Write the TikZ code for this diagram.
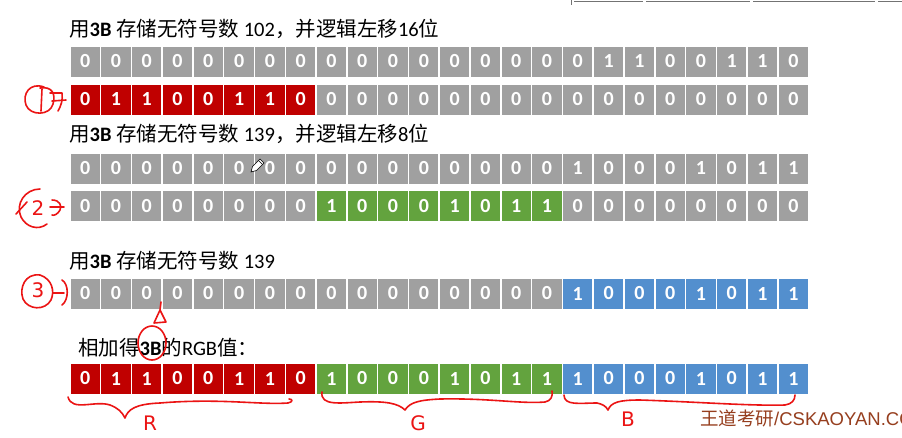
\documentclass[tikz,border=0pt]{standalone}
\usepackage{fontspec}
\setmainfont{Carlito}
\newfontfamily\cjk{Noto Sans CJK SC}
\newfontfamily\wmfont{Liberation Sans}
\newfontfamily\handfont{DejaVu Sans}
\definecolor{cgray}{RGB}{160,160,160}
\definecolor{cred}{RGB}{192,0,0}
\definecolor{cgreen}{RGB}{99,163,62}
\definecolor{cblue}{RGB}{83,143,206}
\definecolor{ink}{RGB}{235,20,20}
\definecolor{wm}{RGB}{150,62,30}
\newcommand\bitrow[3]{%
  \foreach \d/\c [count=\i from 0] in {#3} {
    \node[cell, fill=\c] (#1c\i) at (69+\i*30.79, #2) {\d};
  }%
}
\begin{document}
\begin{tikzpicture}[x=1pt,y=-1pt,
  cell/.style={draw=white, line width=1.5pt, minimum width=30.8pt, minimum height=31.5pt,
    inner sep=0pt, anchor=north west, text=white, font=\bfseries\fontsize{20}{20}\selectfont},
  title/.style={anchor=base west, inner sep=0pt, font=\fontsize{20.5}{22}\selectfont},
  pen/.style={draw=ink, line width=1.6pt, line cap=round, line join=round},
  hand/.style={text=ink, inner sep=0pt, font=\handfont\fontsize{20}{20}\selectfont},
  topline/.style={draw=black!55, line width=1pt}]
\useasboundingbox (0,0) rectangle (902,437);
\clip (0,0) rectangle (902,437);
\fill[white] (0,0) rectangle (902,437);

% top fragments
\draw[topline] (571,0) -- (571,5);
\draw[topline] (574,1.8) -- (643,1.8);
\draw[topline] (646,1.8) -- (750,1.8);
\draw[topline] (753,1.8) -- (875,1.8);
\draw[topline] (878,1.8) -- (902,1.8);

% titles
\node[title] (t1) at (69,36) {{\cjk 用}\textbf{3B} {\cjk 存储无符号数} 102{\cjk ，并逻辑左移}16{\cjk 位}};
\node[title] (t2) at (69,141) {{\cjk 用}\textbf{3B} {\cjk 存储无符号数} 139{\cjk ，并逻辑左移}8{\cjk 位}};
\node[title] (t3) at (69,268) {{\cjk 用}\textbf{3B} {\cjk 存储无符号数} 139};
\node[title] (t4) at (78,355) {{\cjk 相加得}\textbf{3B}{\cjk 的}RGB{\cjk 值：}};

% rows
\bitrow{a}{45}{0/cgray,0/cgray,0/cgray,0/cgray,0/cgray,0/cgray,0/cgray,0/cgray,0/cgray,0/cgray,0/cgray,0/cgray,0/cgray,0/cgray,0/cgray,0/cgray,0/cgray,1/cgray,1/cgray,0/cgray,0/cgray,1/cgray,1/cgray,0/cgray}
\bitrow{b}{83}{0/cred,1/cred,1/cred,0/cred,0/cred,1/cred,1/cred,0/cred,0/cgray,0/cgray,0/cgray,0/cgray,0/cgray,0/cgray,0/cgray,0/cgray,0/cgray,0/cgray,0/cgray,0/cgray,0/cgray,0/cgray,0/cgray,0/cgray}
\bitrow{c}{152}{0/cgray,0/cgray,0/cgray,0/cgray,0/cgray,0/cgray,0/cgray,0/cgray,0/cgray,0/cgray,0/cgray,0/cgray,0/cgray,0/cgray,0/cgray,0/cgray,1/cgray,0/cgray,0/cgray,0/cgray,1/cgray,0/cgray,1/cgray,1/cgray}
\bitrow{d}{189.5}{0/cgray,0/cgray,0/cgray,0/cgray,0/cgray,0/cgray,0/cgray,0/cgray,1/cgreen,0/cgreen,0/cgreen,0/cgreen,1/cgreen,0/cgreen,1/cgreen,1/cgreen,0/cgray,0/cgray,0/cgray,0/cgray,0/cgray,0/cgray,0/cgray,0/cgray}
\bitrow{e}{277}{0/cgray,0/cgray,0/cgray,0/cgray,0/cgray,0/cgray,0/cgray,0/cgray,0/cgray,0/cgray,0/cgray,0/cgray,0/cgray,0/cgray,0/cgray,0/cgray,1/cblue,0/cblue,0/cblue,0/cblue,1/cblue,0/cblue,1/cblue,1/cblue}
\bitrow{f}{362}{0/cred,1/cred,1/cred,0/cred,0/cred,1/cred,1/cred,0/cred,1/cgreen,0/cgreen,0/cgreen,0/cgreen,1/cgreen,0/cgreen,1/cgreen,1/cgreen,1/cblue,0/cblue,0/cblue,0/cblue,1/cblue,0/cblue,1/cblue,1/cblue}

% pencil cursor
\draw[fill=white, line width=0.6pt] (251,172) -- (252.5,166.5) -- (260,159) -- (264,163) -- (256.5,170.5) -- cycle;
\draw[line width=0.6pt] (258.5,160.5) -- (262.5,164.5);

% circled numbers with arrows
\draw[pen] (44,87) .. controls (30,82) and (22,94) .. (26,105) .. controls (30,116) and (50,116) .. (53,104) .. controls (56,94) and (52,86) .. (40,88);
\draw[pen] (42,89) -- (41,111);
\draw[pen] (50,93) -- (62,93) .. controls (63,100) and (61,106) .. (58,111);
\draw[pen] (52,101) -- (66,100);
\node[hand] (n2) at (38,208) {2};
\draw[pen] (40,189) .. controls (25,189) and (15,204) .. (21,217) .. controls (26,227) and (38,231) .. (47,224);
\draw[pen] (16,214) -- (27,202);
\draw[pen] (50,207) -- (64,207);
\draw[pen] (52,200) .. controls (60,200) and (62,206) .. (60,210) .. controls (58,214) and (54,216) .. (52,215);
\node[hand] (n3) at (38,290) {3};
\draw[pen] (40,275) .. controls (25,273) and (19,288) .. (23,299) .. controls (28,310) and (45,311) .. (51,300) .. controls (55,291) and (52,279) .. (40,275);
\draw[pen] (53,293) -- (64,293);
\draw[pen] (62,280) .. controls (69,284) and (69,300) .. (62,305);

% triangle and circle around 3B
\draw[pen] (161,302) -- (160,310) -- (154,323) -- (166,322) -- (160,310);
\draw[pen] (152,343) ellipse [x radius=14, y radius=17];

% braces and labels
\draw[pen] (68,397) .. controls (72,412) and (95,400) .. (110,405) .. controls (118,408) and (122,412) .. (125,418) .. controls (128,409) and (136,404) .. (160,403) .. controls (220,398) and (260,405) .. (288,403) .. controls (293,402) and (293,399) .. (289,399);
\draw[pen] (322,392) .. controls (320,406) and (340,403) .. (360,402) .. controls (385,401) and (398,403) .. (405,410) .. controls (410,402) and (420,400) .. (440,399) .. controls (490,398) and (520,404) .. (545,402) .. controls (551,401) and (553,396) .. (552,391);
\draw[pen] (564,395) .. controls (564,406) and (580,403) .. (597,403) .. controls (602,404) and (606,406) .. (608,410) .. controls (611,402) and (620,400) .. (640,400) .. controls (700,402) and (750,406) .. (785,405) .. controls (792,404) and (795,400) .. (795,395);
\node[hand, anchor=north] (lr) at (150,416) {R};
\node[hand, anchor=north] (lg) at (418,415) {G};
\node[hand, anchor=north] (lb) at (628,412) {B};

% watermark
\node[anchor=base west, inner sep=0pt, text=wm, font=\fontsize{18.5}{18.5}\selectfont] (wm) at (700,425) {{\cjk 王道考研}{\wmfont /CSKAOYAN.COM}};
\end{tikzpicture}
\end{document}
